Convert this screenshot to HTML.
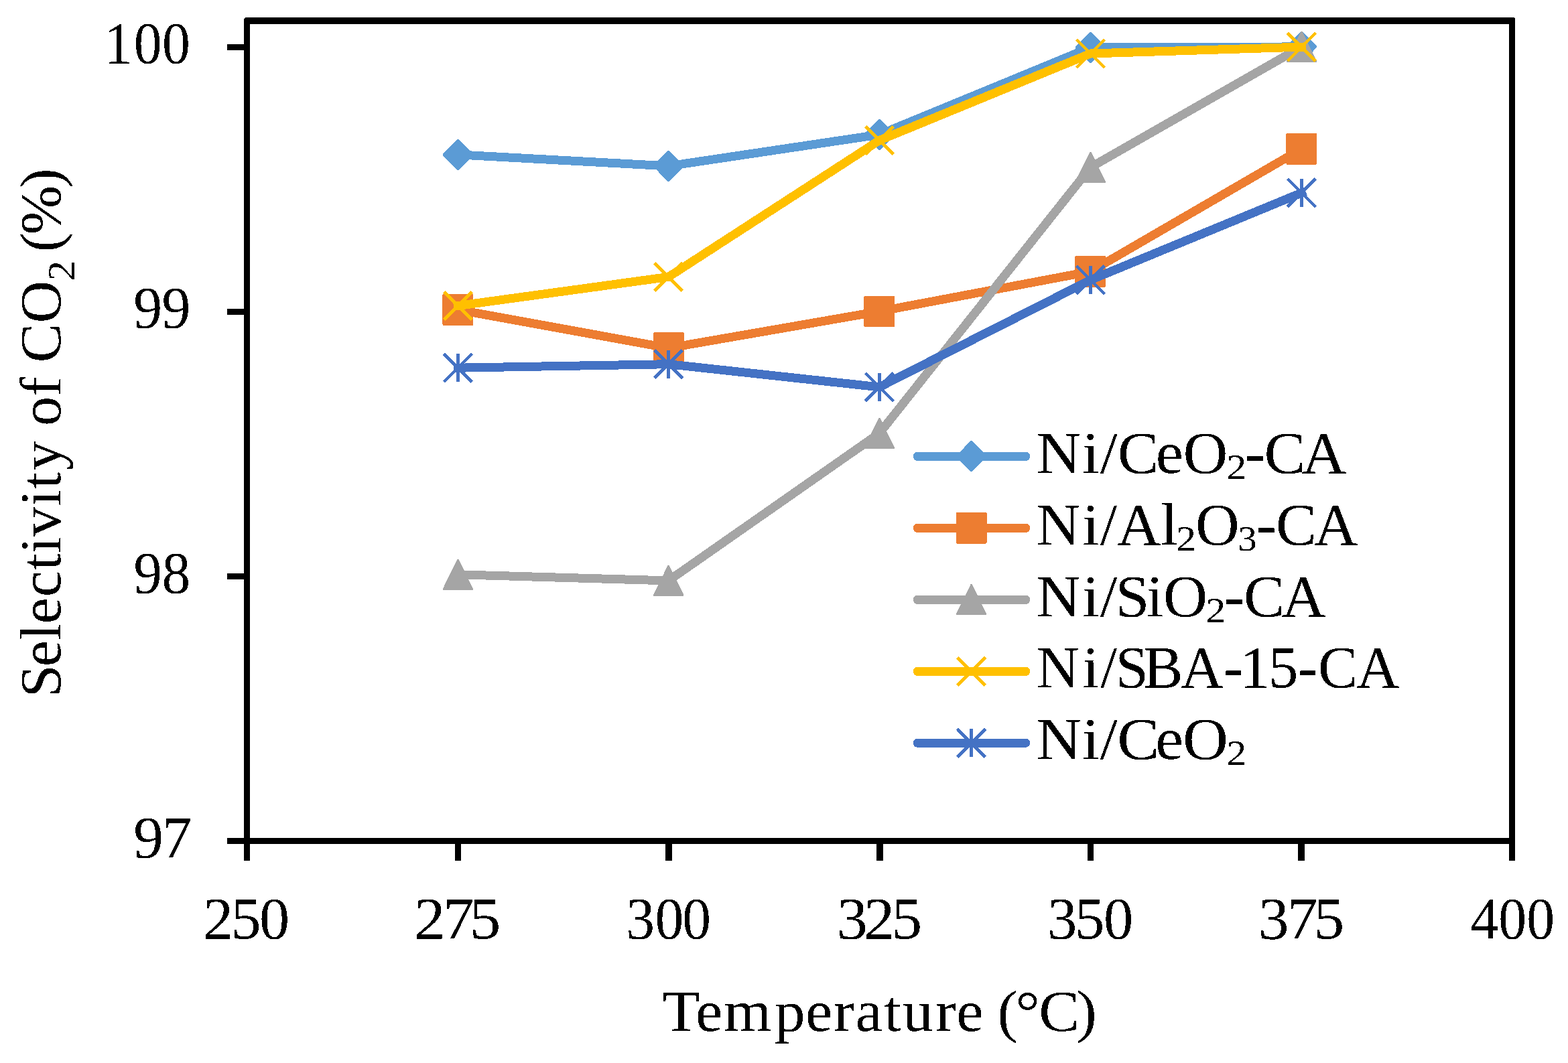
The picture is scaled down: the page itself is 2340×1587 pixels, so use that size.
<!DOCTYPE html>
<html lang="en">
<head>
<meta charset="utf-8">
<title>Selectivity of CO2 (%) vs Temperature (°C)</title>
<style>
html,body{margin:0;padding:0;background:#fff;}
body{width:2340px;height:1587px;}
svg{display:block;}
text{font-family:"Liberation Serif","DejaVu Serif",serif;fill:#000;}
</style>
</head>
<body>
<svg width="2340" height="1587" viewBox="0 0 2340 1587" role="img" aria-label="Line chart of Selectivity of CO2 (%) versus Temperature (°C) for Ni/CeO2-CA, Ni/Al2O3-CA, Ni/SiO2-CA, Ni/SBA-15-CA and Ni/CeO2">
<desc>Selectivity of CO2 (%) against Temperature (°C), 250 to 400 °C, for five catalysts: Ni/CeO2-CA, Ni/Al2O3-CA, Ni/SiO2-CA, Ni/SBA-15-CA and Ni/CeO2.</desc>
<rect x="0" y="0" width="2340" height="1587" fill="#fff"/>
<defs>
<filter id="crisp" x="0" y="0" width="100%" height="100%" filterUnits="userSpaceOnUse" color-interpolation-filters="sRGB">
<feComponentTransfer><feFuncA type="discrete" tableValues="0 1"/></feComponentTransfer>
</filter>
</defs>
<g class="plot" shape-rendering="crispEdges">
<g class="series s1">
<polyline points="683.40,230.90 997.70,247.90 1312.40,200.95 1627.45,71.00 1942.40,69.90" fill="none" stroke="#5B9BD5" stroke-width="13.0" stroke-linejoin="round" stroke-linecap="square"/>
<polygon points="682.40,207.80 684.40,207.80 706.00,229.90 706.00,231.90 684.40,254.00 682.40,254.00 660.80,231.90 660.80,229.90" fill="#5B9BD5"/>
<polygon points="996.70,224.80 998.70,224.80 1020.30,246.90 1020.30,248.90 998.70,271.00 996.70,271.00 975.10,248.90 975.10,246.90" fill="#5B9BD5"/>
<polygon points="1311.40,177.85 1313.40,177.85 1335.00,199.95 1335.00,201.95 1313.40,224.05 1311.40,224.05 1289.80,201.95 1289.80,199.95" fill="#5B9BD5"/>
<polygon points="1626.45,47.90 1628.45,47.90 1650.05,70.00 1650.05,72.00 1628.45,94.10 1626.45,94.10 1604.85,72.00 1604.85,70.00" fill="#5B9BD5"/>
<polygon points="1941.40,46.80 1943.40,46.80 1965.00,68.90 1965.00,70.90 1943.40,93.00 1941.40,93.00 1919.80,70.90 1919.80,68.90" fill="#5B9BD5"/>
</g>
<g class="series s2">
<polyline points="683.40,462.45 997.70,519.60 1312.40,464.90 1627.45,405.30 1942.40,222.35" fill="none" stroke="#ED7D31" stroke-width="13.0" stroke-linejoin="round" stroke-linecap="square"/>
<rect x="660.40" y="439.05" width="46.00" height="46.80" rx="1.8" fill="#ED7D31"/>
<rect x="974.70" y="496.20" width="46.00" height="46.80" rx="1.8" fill="#ED7D31"/>
<rect x="1289.40" y="441.50" width="46.00" height="46.80" rx="1.8" fill="#ED7D31"/>
<rect x="1604.45" y="381.90" width="46.00" height="46.80" rx="1.8" fill="#ED7D31"/>
<rect x="1919.40" y="198.95" width="46.00" height="46.80" rx="1.8" fill="#ED7D31"/>
</g>
<g class="series s3">
<polyline points="683.40,857.80 997.70,866.90 1312.40,646.90 1627.45,249.80 1942.40,69.90" fill="none" stroke="#A5A5A5" stroke-width="13.0" stroke-linejoin="round" stroke-linecap="square"/>
<polygon points="682.40,834.80 684.40,834.80 705.90,878.80 705.90,880.80 660.90,880.80 660.90,878.80" fill="#A5A5A5"/>
<polygon points="996.70,843.90 998.70,843.90 1020.20,887.90 1020.20,889.90 975.20,889.90 975.20,887.90" fill="#A5A5A5"/>
<polygon points="1311.40,623.90 1313.40,623.90 1334.90,667.90 1334.90,669.90 1289.90,669.90 1289.90,667.90" fill="#A5A5A5"/>
<polygon points="1626.45,226.80 1628.45,226.80 1649.95,270.80 1649.95,272.80 1604.95,272.80 1604.95,270.80" fill="#A5A5A5"/>
<polygon points="1941.40,46.90 1943.40,46.90 1964.90,90.90 1964.90,92.90 1919.90,92.90 1919.90,90.90" fill="#A5A5A5"/>
</g>
<g class="series s4">
<polyline points="683.40,456.50 997.70,413.40 1312.40,209.50 1627.45,80.00 1942.40,70.10" fill="none" stroke="#FFC000" stroke-width="13.0" stroke-linejoin="round" stroke-linecap="square"/>
<path d="M662.50,435.60 L704.30,477.40 M662.50,477.40 L704.30,435.60" fill="none" stroke="#FFC000" stroke-width="4.8" stroke-linecap="butt"/>
<path d="M976.80,392.50 L1018.60,434.30 M976.80,434.30 L1018.60,392.50" fill="none" stroke="#FFC000" stroke-width="4.8" stroke-linecap="butt"/>
<path d="M1291.50,188.60 L1333.30,230.40 M1291.50,230.40 L1333.30,188.60" fill="none" stroke="#FFC000" stroke-width="4.8" stroke-linecap="butt"/>
<path d="M1606.55,59.10 L1648.35,100.90 M1606.55,100.90 L1648.35,59.10" fill="none" stroke="#FFC000" stroke-width="4.8" stroke-linecap="butt"/>
<path d="M1921.50,49.20 L1963.30,91.00 M1921.50,91.00 L1963.30,49.20" fill="none" stroke="#FFC000" stroke-width="4.8" stroke-linecap="butt"/>
</g>
<g class="series s5">
<polyline points="683.40,549.20 997.70,543.70 1312.40,577.90 1627.45,417.90 1942.40,287.90" fill="none" stroke="#4472C4" stroke-width="13.0" stroke-linejoin="round" stroke-linecap="square"/>
<path d="M662.50,528.30 L704.30,570.10 M662.50,570.10 L704.30,528.30 M683.40,528.20 L683.40,570.20" fill="none" stroke="#4472C4" stroke-width="4.8" stroke-linecap="butt"/>
<path d="M976.80,522.80 L1018.60,564.60 M976.80,564.60 L1018.60,522.80 M997.70,522.70 L997.70,564.70" fill="none" stroke="#4472C4" stroke-width="4.8" stroke-linecap="butt"/>
<path d="M1291.50,557.00 L1333.30,598.80 M1291.50,598.80 L1333.30,557.00 M1312.40,556.90 L1312.40,598.90" fill="none" stroke="#4472C4" stroke-width="4.8" stroke-linecap="butt"/>
<path d="M1606.55,397.00 L1648.35,438.80 M1606.55,438.80 L1648.35,397.00 M1627.45,396.90 L1627.45,438.90" fill="none" stroke="#4472C4" stroke-width="4.8" stroke-linecap="butt"/>
<path d="M1921.50,267.00 L1963.30,308.80 M1921.50,308.80 L1963.30,267.00 M1942.40,266.90 L1942.40,308.90" fill="none" stroke="#4472C4" stroke-width="4.8" stroke-linecap="butt"/>
</g>
</g>
<g class="axes" shape-rendering="crispEdges">
<path fill="#000" fill-rule="evenodd" d="M364,28 L366,26 H2259 L2261,28 V1260 H364 Z M373,35.85 H2252 V1251 H373 Z"/>
<path fill="#000" d="M339,66 H364.5 V75 H339 Z M339,461 H364.5 V470 H339 Z M339,856 H364.5 V865 H339 Z M339,1251 H364.5 V1260 H339 Z M364,1259.5 H373 V1284.85 H364 Z M679,1259.5 H688 V1284.85 H679 Z M993,1259.5 H1003 V1284.85 H993 Z M1308,1259.5 H1318 V1284.85 H1308 Z M1623,1259.5 H1632 V1284.85 H1623 Z M1937,1259.5 H1947 V1284.85 H1937 Z M2252,1259.5 H2261 V1284.85 H2252 Z"/>
</g>
<g class="legend" shape-rendering="crispEdges">
<line x1="1369.30" y1="681.30" x2="1530.60" y2="681.30" stroke="#5B9BD5" stroke-width="13.3" stroke-linecap="round"/>
<polygon points="1448.60,658.20 1450.60,658.20 1472.20,680.30 1472.20,682.30 1450.60,704.40 1448.60,704.40 1427.00,682.30 1427.00,680.30" fill="#5B9BD5"/>
<line x1="1369.30" y1="788.30" x2="1530.60" y2="788.30" stroke="#ED7D31" stroke-width="13.3" stroke-linecap="round"/>
<rect x="1426.60" y="764.90" width="46.00" height="46.80" rx="1.8" fill="#ED7D31"/>
<line x1="1369.30" y1="895.30" x2="1530.60" y2="895.30" stroke="#A5A5A5" stroke-width="13.3" stroke-linecap="round"/>
<polygon points="1448.60,872.30 1450.60,872.30 1472.10,916.30 1472.10,918.30 1427.10,918.30 1427.10,916.30" fill="#A5A5A5"/>
<line x1="1369.30" y1="1002.30" x2="1530.60" y2="1002.30" stroke="#FFC000" stroke-width="13.3" stroke-linecap="round"/>
<path d="M1428.70,981.40 L1470.50,1023.20 M1428.70,1023.20 L1470.50,981.40" fill="none" stroke="#FFC000" stroke-width="4.8" stroke-linecap="butt"/>
<line x1="1369.30" y1="1109.20" x2="1530.60" y2="1109.20" stroke="#4472C4" stroke-width="13.3" stroke-linecap="round"/>
<path d="M1428.70,1088.30 L1470.50,1130.10 M1428.70,1130.10 L1470.50,1088.30 M1449.60,1088.20 L1449.60,1130.20" fill="none" stroke="#4472C4" stroke-width="4.8" stroke-linecap="butt"/>
</g>
<g class="labels" filter="url(#crisp)">
<text class="leg1" transform="scale(1.0473,1)" font-size="88.5" xml:space="preserve"><tspan x="1476.57 1542.07 1567.5 1592.41 1646.77 1685.82" y="706">Ni/CeO</tspan><tspan x="1747.83" y="715" font-size="52" textLength="28.38" lengthAdjust="spacingAndGlyphs">2</tspan><tspan x="1773.57 1801.39 1854.89" y="706">-CA</tspan></text>
<text class="leg2" transform="scale(1.0282,1)" font-size="88.5" xml:space="preserve"><tspan x="1504.04 1570.94 1596.84 1621.14 1684.74" y="813">Ni/Al</tspan><tspan x="1707.23" y="822" font-size="52" textLength="28.79" lengthAdjust="spacingAndGlyphs">2</tspan><tspan x="1735.18" y="813">O</tspan><tspan x="1796.88" y="822" font-size="52" textLength="27.4" lengthAdjust="spacingAndGlyphs">3</tspan><tspan x="1823.26 1851.86 1906.99" y="813">-CA</tspan></text>
<text class="leg3" transform="scale(1.0344,1)" font-size="88.5" xml:space="preserve"><tspan x="1495 1561.44 1587.19 1609.14 1654.2 1678.31" y="920">Ni/SiO</tspan><tspan x="1739.79" y="929" font-size="52" textLength="28.61" lengthAdjust="spacingAndGlyphs">2</tspan><tspan x="1765.92 1794.26 1848.85" y="920">-CA</tspan></text>
<text class="leg4" transform="scale(1.0046,1)" font-size="88.5" xml:space="preserve"><tspan x="1539.48 1608.18 1634.68 1656.89 1698.51 1753.66 1817.64 1841.95 1884.38 1928.14 1957.98 2014.99" y="1026">Ni/SBA-15-CA</tspan></text>
<text class="leg5" transform="scale(1.0628,1)" font-size="88.5" xml:space="preserve"><tspan x="1455 1519.4 1544.46 1568.76 1622.46 1660.76" y="1133">Ni/CeO</tspan><tspan x="1722.34" y="1142" font-size="52" textLength="27.97" lengthAdjust="spacingAndGlyphs">2</tspan></text>
<text class="xtitle" transform="scale(1.0525,1)" font-size="86.5" xml:space="preserve"><tspan x="939.23 986.33 1026.44 1098.41 1142.09 1182.22 1212.75 1253.49 1279.82 1326.68 1356.13 1385.16 1414.2 1439.93 1472.97 1526.49" y="1539">Temperature (°C)</tspan></text>
<text class="y100" transform="scale(0.9472,1)" font-size="88.5" xml:space="preserve"><tspan x="164.35 210.83 255.42" y="94">100</tspan></text>
<text class="y99" transform="scale(0.9686,1)" font-size="88.5" xml:space="preserve"><tspan x="205.82 249.25" y="489">99</tspan></text>
<text class="y98" transform="scale(0.9579,1)" font-size="88.5" xml:space="preserve"><tspan x="208.15 252.26" y="885">98</tspan></text>
<text class="y97" transform="scale(1.0087,1)" font-size="88.5" xml:space="preserve"><tspan x="197.51 239.75" y="1280">97</tspan></text>
<text class="x250" transform="scale(1.0209,1)" font-size="88.5" xml:space="preserve"><tspan x="296.91 337.55 379.08" y="1401">250</tspan></text>
<text class="x275" transform="scale(1.0558,1)" font-size="88.5" xml:space="preserve"><tspan x="585.29 626.11 663.73" y="1401">275</tspan></text>
<text class="x300" transform="scale(0.9667,1)" font-size="88.5" xml:space="preserve"><tspan x="966.32 1011.22 1053.46" y="1401">300</tspan></text>
<text class="x325" transform="scale(1.0397,1)" font-size="88.5" xml:space="preserve"><tspan x="1201.1 1240.12 1279.57" y="1401">325</tspan></text>
<text class="x350" transform="scale(1.0017,1)" font-size="88.5" xml:space="preserve"><tspan x="1560.26 1601.22 1644.09" y="1401">350</tspan></text>
<text class="x375" transform="scale(1.0354,1)" font-size="88.5" xml:space="preserve"><tspan x="1813.65 1854.9 1893.59" y="1401">375</tspan></text>
<text class="x400" transform="scale(0.9459,1)" font-size="88.5" xml:space="preserve"><tspan x="2320 2364.03 2408.45" y="1401">400</tspan></text>
<text class="ytitle" transform="rotate(-90) scale(1.0173,1)" font-size="86.5" xml:space="preserve"><tspan x="-1023.62 -978.12 -939.01 -915.5 -876.04 -836.35 -812.11 -787 -742.44 -716.87 -690.36 -657.7 -625.03 -581.78 -557 -532.23 -474.22" y="90">Selectivity of CO</tspan><tspan x="-412.2" y="111.2" font-size="56.5" textLength="29.92" lengthAdjust="spacingAndGlyphs">2</tspan><tspan x="-391.36 -369.73 -344.23 -275.8" y="90"> (%)</tspan></text>
</g>
</svg>
</body>
</html>
